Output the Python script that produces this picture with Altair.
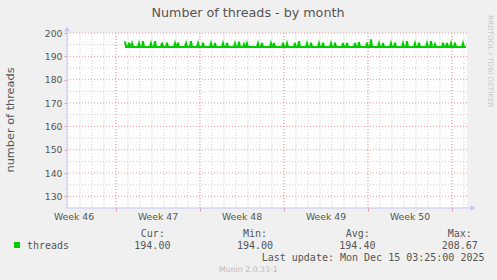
import altair as alt
import pandas as pd

# ---- data (time in hours from the left edge of the graph; 800 h visible) ----
spike_hours = [116, 124, 130, 144, 152, 168, 176, 190, 200, 216, 222, 238, 248, 262, 272,
               288, 296, 312, 320, 336, 344, 354, 360, 382, 390, 408, 414, 432, 440, 456,
               464, 480, 488, 504, 512, 528, 536, 552, 560, 576, 584, 600, 608, 624, 632,
               648, 656, 672, 680, 696, 704, 720, 728, 736, 752, 760, 768, 776, 792]
spike_values = [196.4, 195.8, 195.5, 195.6, 196.5, 195.6, 196.5, 195.8, 195.8, 195.6, 195.8,
                195.6, 196.5, 195.6, 195.8, 195.6, 195.7, 195.6, 195.7, 195.5, 196.3, 195.2,
                195.5, 195.6, 195.7, 195.6, 195.7, 195.8, 195.6, 195.7, 196.5, 195.6, 195.8,
                195.6, 195.8, 195.6, 195.8, 195.7, 195.7, 195.7, 196.0, 195.8, 197.3, 195.6,
                195.7, 195.6, 195.8, 195.6, 196.5, 195.6, 195.8, 195.6, 196.5, 195.2, 195.8,
                195.7, 195.6, 195.8, 195.6]
baseline_value = 194.0
series_end_hour = 798

week_lines = [98, 266, 434, 602, 770]
day_lines = [2, 26, 50, 74, 98, 122, 146, 170, 194, 218, 242, 266, 290, 314, 338, 362, 386,
             410, 434, 458, 482, 506, 530, 554, 578, 602, 626, 650, 674, 698, 722, 746, 770, 794]
week_label_hours = [14, 182, 350, 518, 686]
week_labels = ["Week 46", "Week 47", "Week 48", "Week 49", "Week 50"]
y_major = [130, 140, 150, 160, 170, 180, 190, 200]
y_minor = [135, 145, 155, 165, 175, 185, 195]

stat_names = ["Cur:", "Min:", "Avg:", "Max:"]
stat_values = ["194.00", "194.00", "194.40", "208.67"]

# build line vertices
rows = []
for i, (h, v) in enumerate(zip(spike_hours, spike_values)):
    if i > 0:
        rows.append({"hours": h - 2, "threads": baseline_value})
    rows.append({"hours": h, "threads": v})
    rows.append({"hours": h + 2, "threads": baseline_value})
rows.append({"hours": series_end_hour, "threads": baseline_value})
line_df = pd.DataFrame(rows).sort_values("hours").drop_duplicates("hours", keep="last")

# ---- styling ----
GREEN = "#00CC00"
MAJOR = "#F09A9A"
MINOR = "#CDCDCD"
AXIS = "#C4C4F4"
TXT = "#555555"

xs = alt.Scale(domain=[0, 800], nice=False, zero=False)
ys = alt.Scale(domain=[125, 200], nice=False, zero=False)
xaxis = alt.Axis(values=week_lines, labels=False, title=None, grid=False, domain=False,
                 tickColor=MAJOR, tickSize=3)
yaxis = alt.Axis(values=y_major, title=None, grid=False, domain=False, tickColor=MAJOR,
                 tickSize=3, labelFont="DejaVu Sans", labelFontSize=9.3, labelColor=TXT,
                 labelPadding=2)

def vrules(vals, color):
    return alt.Chart(pd.DataFrame({"hours": vals})).mark_rule(
        color=color, strokeDash=[1, 2], strokeWidth=1).encode(
        x=alt.X("hours:Q", scale=xs, axis=xaxis))

def hrules(vals, color):
    return alt.Chart(pd.DataFrame({"threads": vals})).mark_rule(
        color=color, strokeDash=[1, 2], strokeWidth=1).encode(
        y=alt.Y("threads:Q", scale=ys, axis=yaxis))

ONE = alt.Data(values=[{"k": 1}])

def label(text, x, y, size, font="DejaVu Sans", color=TXT, align="left", angle=0,
          baseline="alphabetic"):
    return alt.Chart(ONE).mark_text(text=text, font=font, fontSize=size, color=color,
                                     align=align, angle=angle, baseline=baseline).encode(
        x=alt.value(x), y=alt.value(y))

line = alt.Chart(line_df).mark_line(color=GREEN, strokeWidth=2, clip=True).encode(
    x=alt.X("hours:Q", scale=xs, axis=xaxis),
    y=alt.Y("threads:Q", scale=ys, axis=yaxis))

week_text = alt.Chart(pd.DataFrame({"hours": week_label_hours, "label": week_labels})).mark_text(
    font="DejaVu Sans", fontSize=9.3, color=TXT, align="center", baseline="alphabetic").encode(
    x=alt.X("hours:Q", scale=xs, axis=xaxis), y=alt.value(187), text="label:N")

x_axis_line = alt.Chart(ONE).mark_rule(color=AXIS, strokeWidth=1).encode(
    x=alt.value(0), x2=alt.value(405), y=alt.value(175))
y_axis_line = alt.Chart(ONE).mark_rule(color=AXIS, strokeWidth=1).encode(
    x=alt.value(0), y=alt.value(-4), y2=alt.value(175))
x_arrow = alt.Chart(ONE).mark_point(shape="triangle-right", filled=True, color=AXIS, size=30,
                                    opacity=1).encode(x=alt.value(406), y=alt.value(175))
y_arrow = alt.Chart(ONE).mark_point(shape="triangle-up", filled=True, color=AXIS, size=30,
                                    opacity=1).encode(x=alt.value(0), y=alt.value(-4))

legend_sq = alt.Chart(ONE).mark_rect(color=GREEN).encode(
    x=alt.value(-53), x2=alt.value(-47), y=alt.value(209), y2=alt.value(215))

MONO = "DejaVu Sans Mono"
texts = [
    label("Number of threads - by month", 181, -16, 12.7, align="center"),
    label("number of threads", -56, 87, 11.3, align="center", angle=270, baseline="middle"),
    label("RRDTOOL / TOBI OETIKER", 423, -18, 7.2, color="#C8C8C8", angle=90, baseline="middle"),
    label("threads", -40, 216, 10, font=MONO),
    label("Last update: Mon Dec 15 03:25:00 2025", 194.7, 228, 10, font=MONO),
    label("Munin 2.0.33-1", 152, 239, 7.8, color="#BBBBBB"),
]
head_x = [73.7, 176, 278.7, 380.7]
val_x = [67.3, 170, 272.3, 374.7]
for n, v, hx, vx in zip(stat_names, stat_values, head_x, val_x):
    texts.append(label(n, hx, 204, 10, font=MONO))
    texts.append(label(v, vx, 216, 10, font=MONO))

chart = alt.layer(
    vrules(day_lines, MINOR), hrules(y_minor, MINOR),
    vrules(week_lines, MAJOR), hrules(y_major, MAJOR),
    line, week_text, x_axis_line, y_axis_line, x_arrow, y_arrow, legend_sq, *texts
).properties(
    width=400, height=175,
    padding={"left": 67, "top": 33, "right": 30, "bottom": 72},
    autosize=alt.AutoSizeParams(type="none"),
    background="#F0F0F0",
).configure_view(fill="white", stroke=None)

chart.save("out.html", embed_options={"renderer": "svg", "actions": False})
